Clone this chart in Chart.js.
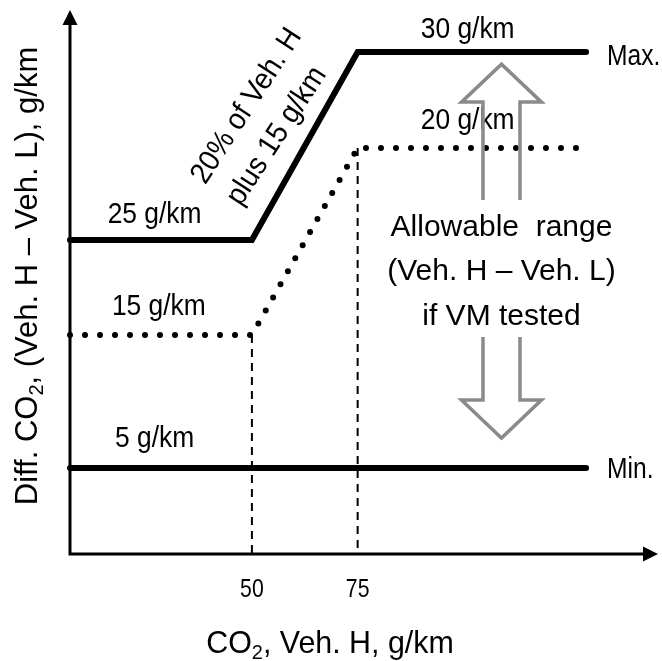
<!DOCTYPE html>
<html>
<head>
<meta charset="utf-8">
<script src="https://cdn.jsdelivr.net/npm/chart.js@4.4.1/dist/chart.umd.min.js"></script>
<style>
  html, body { margin: 0; padding: 0; background: #fff; }
  #wrap { width: 662px; height: 661px; }
</style>
</head>
<body>
<div id="wrap"><canvas id="chart" width="662" height="661"></canvas></div>
<script>
// CO2 of vehicle H (g/km) where the limits bend
const maxX = [7, 50, 75, 129];
const vmX = [7, 50, 75, 127];
const minX = [7, 129];

// allowed CO2 difference, Veh. H - Veh. L (g/km)
const maxLimit = [25, 25, 30, 30];
const vmLimit = [15, 15, 20, 20];
const minLimit = [5, 5];

const xTicks = [50, 75];

const FONT = '"Liberation Sans", Arial, sans-serif';

function pts(xs, ys) {
  return xs.map((x, i) => ({ x: x, y: ys[i] }));
}

// text squeezed horizontally by `narrow` to get a condensed look
function label(ctx, str, x, y, size, align, narrow) {
  ctx.save();
  ctx.translate(x, y);
  ctx.scale(narrow || 1, 1);
  ctx.font = size + 'px ' + FONT;
  ctx.textAlign = align || 'center';
  ctx.textBaseline = 'alphabetic';
  ctx.fillText(str, 0, 0);
  ctx.restore();
}

// text with a subscript part, centred on x
function subLabel(ctx, parts, x, y, size, narrow) {
  const subSize = Math.round(size * 0.65);
  let total = 0;
  parts.forEach(p => {
    ctx.font = (p.sub ? subSize : size) + 'px ' + FONT;
    p.w = ctx.measureText(p.t).width;
    total += p.w;
  });
  ctx.save();
  ctx.translate(x, y);
  ctx.scale(narrow || 1, 1);
  let cx = -total / 2;
  ctx.textAlign = 'left';
  ctx.textBaseline = 'alphabetic';
  parts.forEach(p => {
    ctx.font = (p.sub ? subSize : size) + 'px ' + FONT;
    ctx.fillText(p.t, cx, p.sub ? size * 0.2 : 0);
    cx += p.w;
  });
  ctx.restore();
}

function hollowArrow(ctx, cx, yOpen, yBase, yTip, shaftHalf, headHalf) {
  ctx.beginPath();
  ctx.moveTo(cx - shaftHalf, yOpen);
  ctx.lineTo(cx - shaftHalf, yBase);
  ctx.lineTo(cx - headHalf, yBase);
  ctx.lineTo(cx, yTip);
  ctx.lineTo(cx + headHalf, yBase);
  ctx.lineTo(cx + shaftHalf, yBase);
  ctx.lineTo(cx + shaftHalf, yOpen);
  ctx.stroke();
}

const sketch = {
  id: 'sketch',
  beforeDatasetsDraw(chart) {
    const { ctx, chartArea: a, scales } = chart;
    const sx = scales.x, yVm = scales.yVm;
    ctx.save();
    ctx.strokeStyle = '#000';
    ctx.fillStyle = '#000';

    // axes with arrow heads
    ctx.lineWidth = 3;
    ctx.beginPath();
    ctx.moveTo(a.left, a.top + 12);
    ctx.lineTo(a.left, a.bottom);
    ctx.lineTo(a.right - 12, a.bottom);
    ctx.stroke();
    ctx.beginPath();
    ctx.moveTo(a.left, a.top);
    ctx.lineTo(a.left - 7.5, a.top + 15);
    ctx.lineTo(a.left + 7.5, a.top + 15);
    ctx.closePath();
    ctx.fill();
    ctx.beginPath();
    ctx.moveTo(a.right, a.bottom);
    ctx.lineTo(a.right - 15, a.bottom - 7.5);
    ctx.lineTo(a.right - 15, a.bottom + 7.5);
    ctx.closePath();
    ctx.fill();

    // dashed drop lines at the break points
    ctx.lineWidth = 2;
    ctx.setLineDash([8, 6]);
    xTicks.forEach((v, i) => {
      const px = sx.getPixelForValue(v);
      ctx.beginPath();
      ctx.moveTo(px, yVm.getPixelForValue(vmLimit[i + 1]));
      ctx.lineTo(px, a.bottom);
      ctx.stroke();
    });
    ctx.setLineDash([]);

    // tick labels
    xTicks.forEach(v => label(ctx, String(v), sx.getPixelForValue(v), a.bottom + 43, 25, 'center', 0.85));

    // axis titles
    subLabel(ctx, [{ t: 'CO' }, { t: '2', sub: true }, { t: ', Veh. H, g/km' }],
      a.left + 260, a.bottom + 99, 32, 0.95);
    ctx.save();
    ctx.translate(37, 276);
    ctx.rotate(-Math.PI / 2);
    subLabel(ctx, [{ t: 'Diff. CO' }, { t: '2', sub: true }, { t: ', (Veh. H \u2013 Veh. L), g/km' }], 0, 0, 31);
    ctx.restore();
    ctx.restore();
  },
  afterDatasetsDraw(chart) {
    const { ctx, scales } = chart;
    const sx = scales.x, yMax = scales.yMax, yVm = scales.yVm, yMin = scales.yMin;
    ctx.save();
    ctx.fillStyle = '#000';

    // level labels
    const n = 0.91;
    label(ctx, '25 g/km', sx.getPixelForValue(27), yMax.getPixelForValue(maxLimit[0]) - 17, 29, 'center', n);
    label(ctx, '30 g/km', sx.getPixelForValue(101), yMax.getPixelForValue(maxLimit[3]) - 14, 29, 'center', n);
    label(ctx, '15 g/km', sx.getPixelForValue(28), yVm.getPixelForValue(vmLimit[0]) - 20, 29, 'center', n);
    label(ctx, '20 g/km', sx.getPixelForValue(101), yVm.getPixelForValue(vmLimit[3]) - 19, 29, 'center', n);
    label(ctx, '5 g/km', sx.getPixelForValue(27), yMin.getPixelForValue(minLimit[0]) - 21, 29, 'center', n);

    const endX = sx.getPixelForValue(maxX[3]) + 21;
    label(ctx, 'Max.', endX, yMax.getPixelForValue(maxLimit[3]) + 13, 30, 'left', 0.82);
    label(ctx, 'Min.', endX, yMin.getPixelForValue(minLimit[1]) + 10, 30, 'left', 0.82);

    // slope note along the rising part
    const mx = (sx.getPixelForValue(maxX[1]) + sx.getPixelForValue(maxX[2])) / 2;
    const my = (yMax.getPixelForValue(maxLimit[1]) + yMax.getPixelForValue(maxLimit[2])) / 2;
    const ang = -57 * Math.PI / 180;
    [['20% of Veh. H', -58, -40], ['plus 15 g/km', -28, -10]].forEach(([t, dx, dy]) => {
      ctx.save();
      ctx.translate(mx + dx, my + dy);
      ctx.rotate(ang);
      ctx.scale(0.93, 1);
      ctx.font = '30px ' + FONT;
      ctx.textAlign = 'center';
      ctx.textBaseline = 'middle';
      ctx.fillText(t, 0, 0);
      ctx.restore();
    });

    // allowable range note
    const ax = sx.getPixelForValue(109);
    label(ctx, 'Allowable  range', ax, 236, 30);
    label(ctx, '(Veh. H \u2013 Veh. L)', ax, 280, 30);
    label(ctx, 'if VM tested', ax, 325, 30);

    // hollow grey arrows pointing at the max and min limits
    ctx.strokeStyle = '#8a8a8a';
    ctx.lineWidth = 3.5;
    ctx.lineJoin = 'miter';
    const top = yMax.getPixelForValue(maxLimit[3]);
    const bot = yMin.getPixelForValue(minLimit[0]);
    hollowArrow(ctx, ax, top + 148, top + 50, top + 12, 18.5, 40);
    hollowArrow(ctx, ax, bot - 131, bot - 68, bot - 30, 18.5, 40);
    ctx.restore();
  }
};

new Chart(document.getElementById('chart'), {
  type: 'line',
  data: {
    datasets: [
      {
        label: 'Max.',
        data: pts(maxX, maxLimit),
        yAxisID: 'yMax',
        borderColor: '#000',
        borderWidth: 6,
        borderCapStyle: 'round',
        borderJoinStyle: 'miter',
        pointRadius: 0,
        clip: false
      },
      {
        label: 'If VM tested',
        data: pts(vmX, vmLimit),
        yAxisID: 'yVm',
        borderColor: '#000',
        borderWidth: 6,
        borderDash: [0, 15],
        borderCapStyle: 'round',
        pointRadius: 0,
        clip: false
      },
      {
        label: 'Min.',
        data: pts(minX, minLimit),
        yAxisID: 'yMin',
        borderColor: '#000',
        borderWidth: 6,
        borderCapStyle: 'round',
        pointRadius: 0,
        clip: false
      }
    ]
  },
  options: {
    responsive: false,
    animation: false,
    layout: { padding: { left: 70, right: 4, top: 10, bottom: 107 } },
    plugins: { legend: { display: false }, tooltip: { enabled: false } },
    scales: {
      x: { type: 'linear', min: 7, max: 146, display: false },
      yMax: { type: 'linear', min: 16.65, max: 31.12, display: false },
      yVm: { type: 'linear', min: 9.14, max: 23.69, display: false },
      yMin: { type: 'linear', min: 0, max: 31.63, display: false }
    }
  },
  plugins: [sketch]
});
</script>
</body>
</html>
